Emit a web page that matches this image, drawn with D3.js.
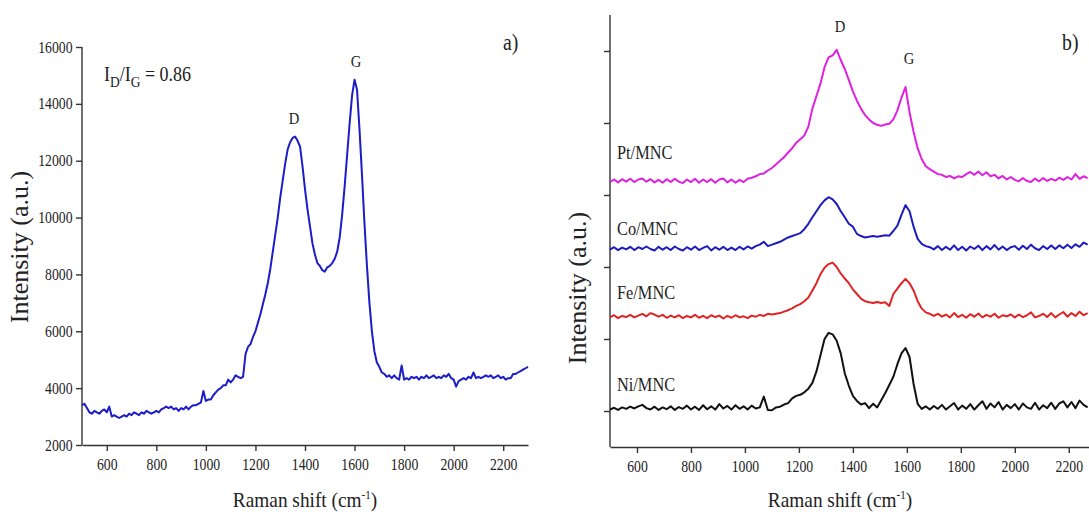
<!doctype html>
<html lang="en">
<head>
<meta charset="UTF-8">
<title>Raman spectra</title>
<script src="https://d3js.org/d3.v7.min.js"></script>
<style>
  body { margin: 0; background: #fff; }
  text { font-family: "Liberation Serif", "DejaVu Serif", serif; fill: #222; }
  .axis path, .axis line { stroke: #333; stroke-width: 1.4; }
</style>
</head>
<body>
<div id="chart"></div>
<script>
// ---- panel a) : single spectrum, 500..2300 cm-1 every 10 ----
var shiftA = d3.range(500, 2301, 10);
var intensityA = [
  3400, 3450, 3300, 3150, 3100, 3200, 3150, 3100, 3200, 3250,
  3150, 3350, 3000, 3050, 3000, 2950, 3000, 3050, 3000, 3100,
  3050, 3150, 3100, 3050, 3150, 3100, 3200, 3150, 3100, 3150,
  3200, 3150, 3250, 3300, 3350, 3300, 3350, 3250, 3300, 3200,
  3300, 3250, 3350, 3250, 3350, 3400, 3400, 3450, 3500, 3900,
  3550, 3600, 3600, 3750, 3850, 3950, 4000, 4100, 4100, 4300,
  4200, 4300, 4450, 4400, 4350, 4400, 5200, 5450, 5550, 5800,
  6000, 6300, 6600, 6950, 7300, 7700, 8200, 8800, 9400, 10000,
  10700, 11300, 11900, 12400, 12650, 12800, 12850, 12700, 12500, 11800,
  11000, 10300, 9700, 9100, 8700, 8400, 8300, 8150, 8100, 8250,
  8300, 8400, 8550, 8800, 9300, 10100, 11100, 12200, 13300, 14300,
  14850, 14500, 13100, 11500, 9800, 8300, 7000, 6000, 5300, 4900,
  4750, 4550, 4500, 4400, 4450, 4350, 4450, 4350, 4300, 4800,
  4300, 4350, 4300, 4400, 4350, 4400, 4300, 4400, 4350, 4450,
  4350, 4400, 4450, 4350, 4400, 4350, 4450, 4400, 4500, 4350,
  4300, 4050, 4250, 4300, 4350, 4300, 4400, 4350, 4550, 4350,
  4400, 4350, 4400, 4450, 4400, 4450, 4350, 4400, 4450, 4350,
  4400, 4300, 4350, 4350, 4500, 4500, 4550, 4600, 4650, 4700,
  4750
];
var yTicksA = [2000, 4000, 6000, 8000, 10000, 12000, 14000, 16000];
var xTicks = [600, 800, 1000, 1200, 1400, 1600, 1800, 2000, 2200];

// ---- panel b) : stacked spectra, 500..2270 cm-1 every 15 (offset units) ----
var shiftB = d3.range(500, 2271, 15);
var seriesB = ["Pt/MNC", "Co/MNC", "Fe/MNC", "Ni/MNC"];
var colorsB = ["#e020e0", "#1c1cc0", "#e02424", "#111111"];
var ni = [
  1.04, 1.09, 1.03, 1.10, 1.06, 1.12, 1.07, 1.13, 1.17, 1.08,
  1.04, 1.12, 1.03, 1.10, 1.05, 1.13, 1.03, 1.11, 1.06, 1.15,
  1.04, 1.12, 1.03, 1.16, 1.05, 1.13, 1.04, 1.19, 1.07, 1.14,
  1.04, 1.16, 1.06, 1.13, 1.04, 1.15, 1.07, 1.10, 1.40, 1.03,
  1.02, 1.10, 1.12, 1.18, 1.22, 1.35, 1.42, 1.45, 1.52, 1.62,
  1.78, 2.10, 2.55, 3.00, 3.17, 3.13, 2.95, 2.60, 2.05, 1.70,
  1.42, 1.28, 1.18, 1.22, 1.08, 1.20, 1.10, 1.30, 1.50, 1.72,
  1.95, 2.30, 2.60, 2.75, 2.50, 1.75, 1.20, 1.06, 1.13, 1.04,
  1.14, 1.06, 1.17, 1.04, 1.13, 1.22, 1.04, 1.15, 1.06, 1.19,
  1.04, 1.16, 1.27, 1.06, 1.21, 1.10, 1.25, 1.04, 1.17, 1.08,
  1.19, 1.04, 1.21, 1.10, 1.06, 1.23, 1.04, 1.16, 1.08, 1.23,
  1.06, 1.21, 1.27, 1.10, 1.25, 1.08, 1.29, 1.17, 1.10
];
var fe = [
  3.60, 3.66, 3.58, 3.64, 3.61, 3.67, 3.60, 3.65, 3.70, 3.63,
  3.72, 3.68, 3.62, 3.67, 3.59, 3.65, 3.60, 3.66, 3.58, 3.64,
  3.60, 3.67, 3.59, 3.64, 3.58, 3.66, 3.61, 3.65, 3.57, 3.64,
  3.59, 3.66, 3.60, 3.63, 3.58, 3.65, 3.62, 3.67, 3.64, 3.70,
  3.68, 3.70, 3.72, 3.76, 3.80, 3.85, 3.92, 3.97, 4.05, 4.15,
  4.35, 4.55, 4.80, 4.98, 5.08, 5.12, 5.00, 4.82, 4.68, 4.55,
  4.38, 4.25, 4.12, 4.05, 4.02, 4.00, 4.03, 4.00, 4.02, 3.92,
  4.25, 4.40, 4.55, 4.67, 4.55, 4.35, 4.05, 3.85, 3.74, 3.70,
  3.64, 3.70, 3.62, 3.68, 3.60, 3.72, 3.61, 3.67, 3.59, 3.69,
  3.62, 3.71, 3.60, 3.67, 3.62, 3.70, 3.59, 3.66, 3.63, 3.68,
  3.60, 3.68, 3.61, 3.66, 3.74, 3.60, 3.64, 3.70, 3.61, 3.72,
  3.60, 3.68, 3.75, 3.62, 3.72, 3.64, 3.76, 3.66, 3.72
];
var co = [
  5.48, 5.55, 5.47, 5.54, 5.49, 5.56, 5.47, 5.55, 5.50, 5.57,
  5.50, 5.46, 5.56, 5.48, 5.55, 5.47, 5.57, 5.50, 5.46, 5.55,
  5.48, 5.57, 5.47, 5.53, 5.58, 5.46, 5.55, 5.48, 5.56, 5.47,
  5.54, 5.47, 5.56, 5.49, 5.57, 5.51, 5.58, 5.62, 5.70, 5.58,
  5.62, 5.66, 5.70, 5.76, 5.82, 5.86, 5.90, 5.94, 6.05, 6.20,
  6.38, 6.55, 6.72, 6.85, 6.94, 6.88, 6.75, 6.55, 6.38, 6.20,
  6.12, 5.92, 5.86, 5.82, 5.84, 5.86, 5.84, 5.86, 5.88, 5.87,
  6.00, 6.15, 6.45, 6.72, 6.55, 6.12, 5.78, 5.64, 5.58, 5.55,
  5.49, 5.58, 5.47, 5.56, 5.48, 5.60, 5.47, 5.56, 5.46, 5.57,
  5.50, 5.59, 5.47, 5.58, 5.49, 5.61, 5.48, 5.57, 5.47, 5.55,
  5.58, 5.48, 5.59, 5.50, 5.62, 5.52, 5.47, 5.58, 5.50, 5.60,
  5.50, 5.60, 5.52, 5.62, 5.53, 5.63, 5.56, 5.68, 5.62
];
var pt = [
  7.36, 7.43, 7.35, 7.44, 7.37, 7.45, 7.36, 7.43, 7.46, 7.37,
  7.44, 7.35, 7.42, 7.34, 7.44, 7.36, 7.45, 7.37, 7.33, 7.43,
  7.36, 7.45, 7.34, 7.43, 7.36, 7.44, 7.34, 7.43, 7.46, 7.35,
  7.43, 7.34, 7.42, 7.36, 7.45, 7.48, 7.52, 7.58, 7.60, 7.68,
  7.75, 7.85, 7.95, 8.05, 8.18, 8.30, 8.45, 8.55, 8.65, 8.90,
  9.40, 9.75, 10.10, 10.55, 10.82, 10.88, 11.03, 10.75, 10.50, 10.20,
  9.88, 9.62, 9.40, 9.22, 9.10, 9.00, 8.95, 8.92, 8.96, 8.98,
  9.10, 9.35, 9.70, 10.00, 9.30, 8.75, 8.30, 8.00, 7.80, 7.72,
  7.65, 7.58, 7.56, 7.50, 7.53, 7.46, 7.52, 7.50, 7.58, 7.64,
  7.56, 7.65, 7.55, 7.63, 7.52, 7.56, 7.46, 7.53, 7.43, 7.50,
  7.42, 7.38, 7.47, 7.39, 7.36, 7.46, 7.38, 7.47, 7.39, 7.45,
  7.40, 7.48, 7.42, 7.50, 7.43, 7.58, 7.45, 7.52, 7.47
];
var valuesB = [pt, co, fe, ni];
var labelYB = [8.0, 5.9, 4.1, 1.55];   // where the series names sit (offset units)

var W = 1089, H = 514;
var svg = d3.select("#chart").append("svg")
    .attr("width", W).attr("height", H);
svg.append("rect").attr("width", W).attr("height", H).attr("fill", "#fff");

// serif text, squeezed a bit horizontally like the scanned figure
function txt(x, y, s, size, anchor, rot, sx) {
    var t = svg.append("text")
        .attr("transform", "translate(" + x + "," + y + ")" + (rot ? " rotate(" + rot + ")" : "") + " scale(" + (sx || 0.86) + ",1)")
        .attr("font-size", size)
        .attr("text-anchor", anchor || "start");
    t.text(s);
    return t;
}

function xTitle(x) {
    var t = txt(x, 507, "Raman shift (cm", 21, "middle", 0, 0.92);
    t.append("tspan").attr("dy", -8).attr("font-size", 12).text("-1");
    t.append("tspan").attr("dy", 8).attr("font-size", 21).text(")");
}

function axes(x, y, yMajor, yMinor, showYLabels) {
    var x0 = y.range()[0], y0 = x.range()[0];
    var gx = svg.append("g").attr("class", "axis")
        .attr("transform", "translate(0," + x0 + ")");
    gx.call(d3.axisBottom(x).tickValues(xTicks.map(function(d){ return d + 100; }).filter(function(d){ return d < x.domain()[1]; }))
        .tickSize(3).tickSizeOuter(0).tickFormat(""));
    gx.call(d3.axisBottom(x).tickValues(xTicks).tickSize(6).tickSizeOuter(0).tickPadding(8).tickFormat(d3.format("d")));
    gx.attr("font-family", null);
    gx.selectAll("text").attr("font-size", 16).attr("transform", "scale(0.86,1)").attr("fill", "#333");

    var gy = svg.append("g").attr("class", "axis")
        .attr("transform", "translate(" + y0 + ",0)");
    gy.call(d3.axisLeft(y).tickValues(yMinor).tickSize(3).tickSizeOuter(0).tickFormat(""));
    var ya = d3.axisLeft(y).tickValues(yMajor).tickSize(6).tickSizeOuter(0).tickPadding(5)
        .tickFormat(showYLabels ? d3.format("d") : "");
    gy.call(ya);
    gy.attr("font-family", null);
    gy.selectAll("text").attr("font-size", 16).attr("transform", "scale(0.86,1)").attr("fill", "#333");
    gy.selectAll(".domain").attr("d", "M0," + y.range()[0] + "V" + y.range()[1]);
}

// ---------- panel a ----------
var xA = d3.scaleLinear().domain([500, 2300]).range([82, 528]);
var yA = d3.scaleLinear().domain([2000, 16000]).range([445, 47]);
axes(xA, yA, yTicksA, [3000, 5000, 7000, 9000, 11000, 13000, 15000], true);

svg.append("path")
    .datum(d3.zip(shiftA, intensityA))
    .attr("fill", "none").attr("stroke", "#1c1cc8").attr("stroke-width", 2)
    .attr("stroke-linejoin", "round")
    .attr("d", d3.line().x(function(d){ return xA(d[0]); }).y(function(d){ return yA(d[1]); }));

xTitle(305);
txt(28, 247, "Intensity (a.u.)", 26, "middle", -90, 1);
txt(503, 50, "a)", 23, "start");
txt(294, 124, "D", 17, "middle");
txt(356, 67, "G", 17, "middle");
var ratio = txt(104, 81, "I", 20, "start", 0, 0.9);
ratio.append("tspan").attr("dy", 6).attr("font-size", 15).text("D");
ratio.append("tspan").attr("dy", -6).attr("font-size", 20).text("/I");
ratio.append("tspan").attr("dy", 6).attr("font-size", 15).text("G");
ratio.append("tspan").attr("dy", -6).attr("font-size", 20).text(" = 0.86");

// ---------- panel b ----------
var xB = d3.scaleLinear().domain([500, 2275]).range([610, 1089]);
var yB = d3.scaleLinear().domain([0, 12]).range([447, 15]);
axes(xB, yB, [1, 3, 5, 7, 9, 11], [2, 4, 6, 8, 10, 12], false);

var lineB = d3.line()
    .x(function(d){ return xB(d[0]); })
    .y(function(d){ return yB(d[1]); });
valuesB.forEach(function(v, i) {
    svg.append("path")
        .datum(d3.zip(shiftB, v))
        .attr("fill", "none").attr("stroke", colorsB[i]).attr("stroke-width", 2)
        .attr("stroke-linejoin", "round")
        .attr("d", lineB);
    txt(617, yB(labelYB[i]), seriesB[i], 19, "start");
});

xTitle(840);
txt(586, 288, "Intensity (a.u.)", 26, "middle", -90, 1);
txt(1062, 50, "b)", 23, "start");
txt(840, 32, "D", 17, "middle");
txt(909, 64, "G", 17, "middle");
</script>
</body>
</html>
